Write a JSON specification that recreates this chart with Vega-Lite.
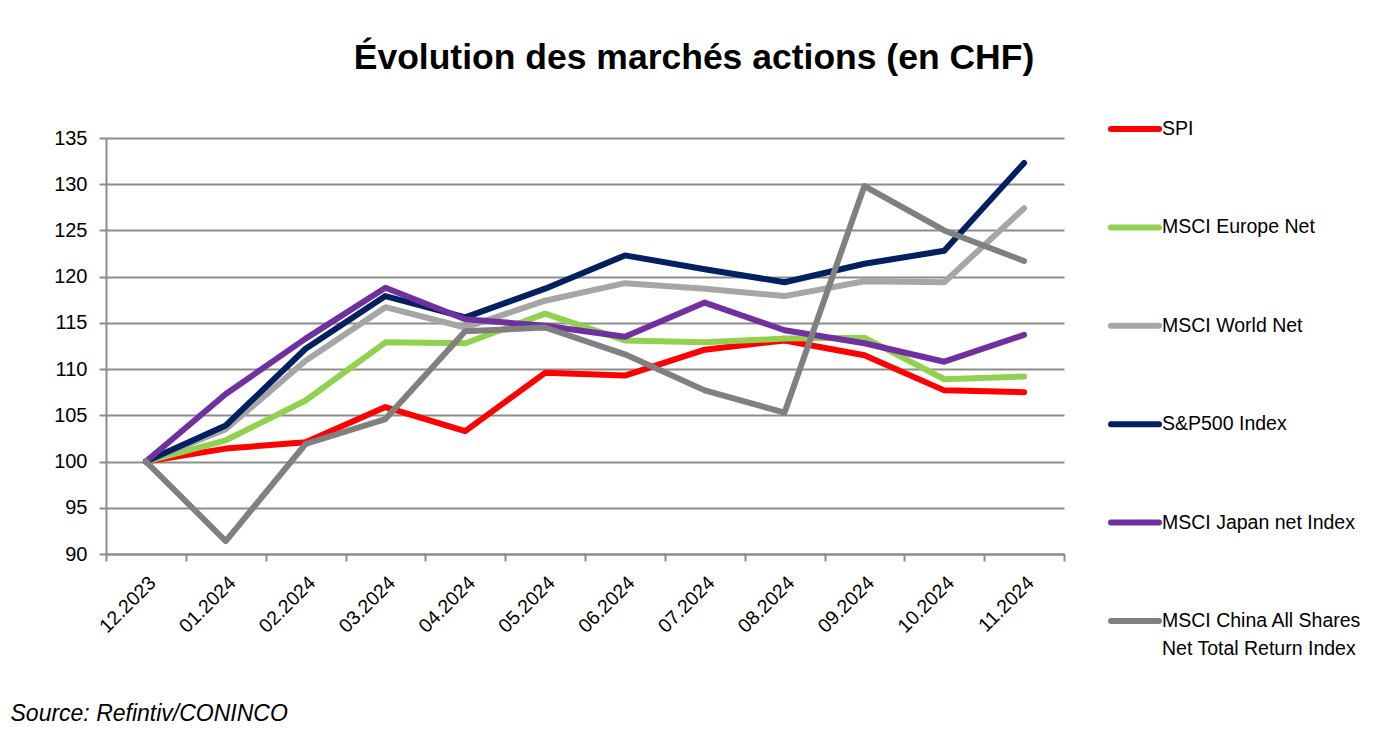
{
  "$schema": "https://vega.github.io/schema/vega-lite/v6.json",
  "autosize": {"type": "none"},
  "padding": {"left": 106, "top": 138, "right": 327, "bottom": 176},
  "width": 958,
  "height": 416,
  "background": "white",
  "title": {
    "text": "Évolution des marchés actions (en CHF)",
    "font": "Liberation Sans",
    "fontSize": 35.5,
    "fontWeight": "bold",
    "color": "#000000",
    "anchor": "middle",
    "dx": 109,
    "baseline": "alphabetic",
    "offset": -2
  },
  "data": {
    "values": [
      {"mois": "12.2023", "serie": "SPI", "valeur": 100},
      {"mois": "01.2024", "serie": "SPI", "valeur": 101.4},
      {"mois": "02.2024", "serie": "SPI", "valeur": 102.1},
      {"mois": "03.2024", "serie": "SPI", "valeur": 105.9},
      {"mois": "04.2024", "serie": "SPI", "valeur": 103.3},
      {"mois": "05.2024", "serie": "SPI", "valeur": 109.6},
      {"mois": "06.2024", "serie": "SPI", "valeur": 109.3},
      {"mois": "07.2024", "serie": "SPI", "valeur": 112.1},
      {"mois": "08.2024", "serie": "SPI", "valeur": 113.1},
      {"mois": "09.2024", "serie": "SPI", "valeur": 111.5},
      {"mois": "10.2024", "serie": "SPI", "valeur": 107.7},
      {"mois": "11.2024", "serie": "SPI", "valeur": 107.5},
      {"mois": "12.2023", "serie": "MSCI Europe Net", "valeur": 100},
      {"mois": "01.2024", "serie": "MSCI Europe Net", "valeur": 102.3},
      {"mois": "02.2024", "serie": "MSCI Europe Net", "valeur": 106.6},
      {"mois": "03.2024", "serie": "MSCI Europe Net", "valeur": 112.9},
      {"mois": "04.2024", "serie": "MSCI Europe Net", "valeur": 112.8},
      {"mois": "05.2024", "serie": "MSCI Europe Net", "valeur": 116.0},
      {"mois": "06.2024", "serie": "MSCI Europe Net", "valeur": 113.1},
      {"mois": "07.2024", "serie": "MSCI Europe Net", "valeur": 112.9},
      {"mois": "08.2024", "serie": "MSCI Europe Net", "valeur": 113.3},
      {"mois": "09.2024", "serie": "MSCI Europe Net", "valeur": 113.4},
      {"mois": "10.2024", "serie": "MSCI Europe Net", "valeur": 108.9},
      {"mois": "11.2024", "serie": "MSCI Europe Net", "valeur": 109.2},
      {"mois": "12.2023", "serie": "MSCI World Net", "valeur": 100},
      {"mois": "01.2024", "serie": "MSCI World Net", "valeur": 103.5},
      {"mois": "02.2024", "serie": "MSCI World Net", "valeur": 110.9},
      {"mois": "03.2024", "serie": "MSCI World Net", "valeur": 116.7},
      {"mois": "04.2024", "serie": "MSCI World Net", "valeur": 114.5},
      {"mois": "05.2024", "serie": "MSCI World Net", "valeur": 117.4},
      {"mois": "06.2024", "serie": "MSCI World Net", "valeur": 119.3},
      {"mois": "07.2024", "serie": "MSCI World Net", "valeur": 118.7},
      {"mois": "08.2024", "serie": "MSCI World Net", "valeur": 117.9},
      {"mois": "09.2024", "serie": "MSCI World Net", "valeur": 119.5},
      {"mois": "10.2024", "serie": "MSCI World Net", "valeur": 119.4},
      {"mois": "11.2024", "serie": "MSCI World Net", "valeur": 127.4},
      {"mois": "12.2023", "serie": "S&P500 Index", "valeur": 100},
      {"mois": "01.2024", "serie": "S&P500 Index", "valeur": 103.9},
      {"mois": "02.2024", "serie": "S&P500 Index", "valeur": 112.2},
      {"mois": "03.2024", "serie": "S&P500 Index", "valeur": 117.9},
      {"mois": "04.2024", "serie": "S&P500 Index", "valeur": 115.6},
      {"mois": "05.2024", "serie": "S&P500 Index", "valeur": 118.7},
      {"mois": "06.2024", "serie": "S&P500 Index", "valeur": 122.3},
      {"mois": "07.2024", "serie": "S&P500 Index", "valeur": 120.8},
      {"mois": "08.2024", "serie": "S&P500 Index", "valeur": 119.4},
      {"mois": "09.2024", "serie": "S&P500 Index", "valeur": 121.4},
      {"mois": "10.2024", "serie": "S&P500 Index", "valeur": 122.8},
      {"mois": "11.2024", "serie": "S&P500 Index", "valeur": 132.3},
      {"mois": "12.2023", "serie": "MSCI Japan net Index", "valeur": 100},
      {"mois": "01.2024", "serie": "MSCI Japan net Index", "valeur": 107.3},
      {"mois": "02.2024", "serie": "MSCI Japan net Index", "valeur": 113.3},
      {"mois": "03.2024", "serie": "MSCI Japan net Index", "valeur": 118.8},
      {"mois": "04.2024", "serie": "MSCI Japan net Index", "valeur": 115.4},
      {"mois": "05.2024", "serie": "MSCI Japan net Index", "valeur": 114.7},
      {"mois": "06.2024", "serie": "MSCI Japan net Index", "valeur": 113.5},
      {"mois": "07.2024", "serie": "MSCI Japan net Index", "valeur": 117.2},
      {"mois": "08.2024", "serie": "MSCI Japan net Index", "valeur": 114.2},
      {"mois": "09.2024", "serie": "MSCI Japan net Index", "valeur": 112.8},
      {"mois": "10.2024", "serie": "MSCI Japan net Index", "valeur": 110.8},
      {"mois": "11.2024", "serie": "MSCI Japan net Index", "valeur": 113.7},
      {"mois": "12.2023", "serie": "MSCI China All Shares Net Total Return Index", "valeur": 100},
      {"mois": "01.2024", "serie": "MSCI China All Shares Net Total Return Index", "valeur": 91.4},
      {"mois": "02.2024", "serie": "MSCI China All Shares Net Total Return Index", "valeur": 101.9},
      {"mois": "03.2024", "serie": "MSCI China All Shares Net Total Return Index", "valeur": 104.6},
      {"mois": "04.2024", "serie": "MSCI China All Shares Net Total Return Index", "valeur": 114.1},
      {"mois": "05.2024", "serie": "MSCI China All Shares Net Total Return Index", "valeur": 114.5},
      {"mois": "06.2024", "serie": "MSCI China All Shares Net Total Return Index", "valeur": 111.6},
      {"mois": "07.2024", "serie": "MSCI China All Shares Net Total Return Index", "valeur": 107.7},
      {"mois": "08.2024", "serie": "MSCI China All Shares Net Total Return Index", "valeur": 105.3},
      {"mois": "09.2024", "serie": "MSCI China All Shares Net Total Return Index", "valeur": 129.8},
      {"mois": "10.2024", "serie": "MSCI China All Shares Net Total Return Index", "valeur": 125.0},
      {"mois": "11.2024", "serie": "MSCI China All Shares Net Total Return Index", "valeur": 121.7}
    ]
  },
  "mark": {"type": "line", "strokeWidth": 6, "strokeCap": "round", "strokeJoin": "round"},
  "encoding": {
    "x": {
      "field": "mois",
      "type": "ordinal",
      "sort": null,
      "scale": {"type": "band", "paddingInner": 0, "paddingOuter": 0},
      "axis": {
        "title": "Source: Refintiv/CONINCO",
        "titleFont": "Liberation Sans",
        "titleFontSize": 23,
        "titleFontStyle": "italic",
        "titleFontWeight": "normal",
        "titleColor": "#000000",
        "titleAnchor": "start",
        "titleAlign": "left",
        "titleBaseline": "alphabetic",
        "titleX": -96,
        "titleY": 166,
        "tickBand": "extent",
        "labelAngle": -45,
        "labelAlign": "right",
        "labelBaseline": "top",
        "labelDx": 3,
        "labelPadding": 12,
        "labelFont": "Liberation Sans",
        "labelFontSize": 19.5,
        "labelColor": "#000000",
        "domainColor": "#8c8c8c",
        "domainWidth": 2,
        "tickColor": "#8c8c8c",
        "tickWidth": 2,
        "tickSize": 7,
        "grid": false
      }
    },
    "y": {
      "field": "valeur",
      "type": "quantitative",
      "scale": {"domain": [90, 135], "nice": false, "zero": false},
      "axis": {
        "title": null,
        "values": [90, 95, 100, 105, 110, 115, 120, 125, 130, 135],
        "labelFont": "Liberation Sans",
        "labelFontSize": 20,
        "labelColor": "#000000",
        "labelPadding": 12,
        "domainColor": "#8c8c8c",
        "domainWidth": 2,
        "tickColor": "#8c8c8c",
        "tickWidth": 2,
        "tickSize": 7,
        "grid": true,
        "gridColor": "#8c8c8c",
        "gridWidth": 2
      }
    },
    "color": {
      "field": "serie",
      "type": "nominal",
      "sort": ["SPI", "MSCI Europe Net", "MSCI World Net", "S&P500 Index", "MSCI Japan net Index", "MSCI China All Shares Net Total Return Index"],
      "scale": {
        "domain": ["SPI", "MSCI Europe Net", "MSCI World Net", "S&P500 Index", "MSCI Japan net Index", "MSCI China All Shares Net Total Return Index"],
        "range": ["#ff0000", "#92d050", "#a6a6a6", "#002060", "#7030a0", "#808080"]
      },
      "legend": {
        "title": null,
        "orient": "none",
        "legendX": 1002,
        "legendY": -36,
        "padding": 0,
        "symbolType": "stroke",
        "symbolSize": 2304,
        "symbolStrokeWidth": 6,
        "labelFont": "Liberation Sans",
        "labelFontSize": 19.5,
        "labelColor": "#000000",
        "labelOffset": 0,
        "labelLimit": 400,
        "rowPadding": 59.4,
        "labelExpr": "datum.label == 'MSCI China All Shares Net Total Return Index' ? ['MSCI China All Shares', 'Net Total Return Index'] : datum.label",
        "encode": {
          "symbols": {"update": {"strokeCap": {"value": "round"}}},
          "labels": {"update": {"lineHeight": {"value": 28}}}
        }
      }
    }
  },
  "config": {
    "view": {"stroke": null}
  }
}
